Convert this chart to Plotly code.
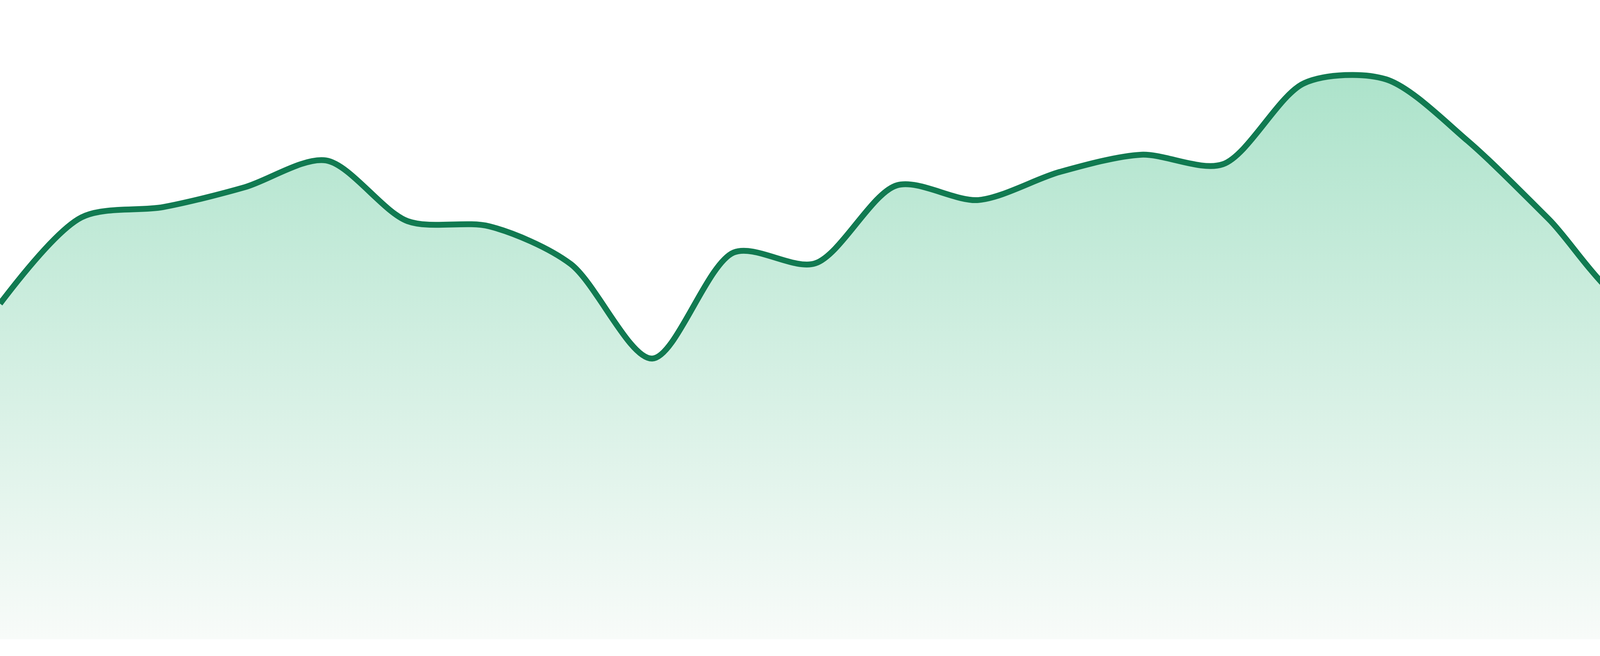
import plotly.graph_objects as go

# readings, one per step across the width
steps = list(range(24))
values = [52.5, 66.0, 67.6, 70.7, 74.9, 65.4, 64.6, 58.7, 43.9, 60.5, 58.8, 71.0,
          68.7, 73.1, 75.8, 74.3, 87.0, 87.6, 78.0, 65.7, 52.7, 59.8, 60.0, 64.0]

line_color = "#117a51"
fill_top = "#ade3cb"
fill_bottom = "#f8fbf9"

fig = go.Figure()
fig.add_trace(go.Scatter(
    x=steps,
    y=values,
    mode="lines",
    line=dict(color=line_color, width=15, shape="spline", smoothing=0.85),
    fill="tozeroy",
    fillgradient=dict(
        type="vertical",
        start=0,
        stop=max(values),
        colorscale=[[0, fill_bottom], [1, fill_top]],
    ),
    hoverinfo="skip",
    showlegend=False,
))

fig.update_layout(
    width=4800,
    height=1680,
    margin=dict(l=0, r=0, t=0, b=43),
    paper_bgcolor="white",
    plot_bgcolor="white",
    xaxis=dict(visible=False, range=[0, 23], fixedrange=True),
    yaxis=dict(visible=False, range=[0, 100], fixedrange=True),
)

# page margin off so the chart sits flush in the window
fig.write_html(
    "out.html",
    config={"displayModeBar": False},
    post_script="document.body.style.margin='0';document.body.style.overflow='hidden';",
)
